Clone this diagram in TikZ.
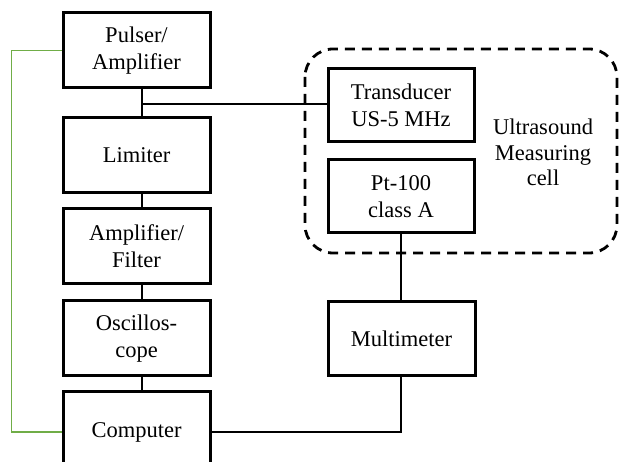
\documentclass[tikz,border=0pt]{standalone}
\usepackage{fontspec}
\setmainfont{Liberation Serif}
\begin{document}
\begin{tikzpicture}[x=1pt,y=-1pt,
  blockbox/.style={draw=black,line width=3pt,fill=white,minimum width=147pt,
    minimum height=75pt,align=center,inner sep=0pt,
    font=\fontsize{22.5}{27}\selectfont},
  wire/.style={draw=black,line width=2.4pt},
  greenwire/.style={line width=1.8pt,draw={rgb,255:red,112;green,173;blue,71}},
  cellframe/.style={draw=black,line width=2.8pt,dash pattern=on 10pt off 7pt,rounded corners=28pt}]
\useasboundingbox (0,0) rectangle (619,462);
\clip (0,0) rectangle (619,462);

% measuring cell outline
\draw[cellframe] (305,49) rectangle (617,253);
\node[font=\fontsize{22.5}{25.5}\selectfont,align=center] (celltext) at (543,152.5)
  {Ultrasound\\Measuring\\cell};

% junction below the pulser
\coordinate (j) at (142,104);

% left chain
\node[blockbox] (pulser) at (136.5,50.5) {Pulser/\\Amplifier};
\node[blockbox] (limiter) at (136.5,155.5) {Limiter};
\node[blockbox] (ampf) at (136.5,246.5) {Amplifier/\\Filter};
\node[blockbox] (osc) at (136.5,338.5) {Oscillos-\\cope};
\node[blockbox,minimum height=80pt] (comp) at (136.5,432) {Computer};

% right chain
\node[blockbox,minimum width=146pt,minimum height=73pt] (trans) at (401,105.5) {Transducer\\US-5 MHz};
\node[blockbox,minimum width=146pt,minimum height=73pt] (pt) at (401,196.5) {Pt-100\\class A};
\node[blockbox,minimum height=74pt] (mm) at (401.5,339) {Multimeter};

% connectors
\draw[wire] (pulser.south -| j) -- (limiter.north -| j);
\draw[wire] (j) -- (j -| trans.west);
\draw[wire] (limiter.south -| j) -- (ampf.north -| j);
\draw[wire] (ampf.south -| j) -- (osc.north -| j);
\draw[wire] (osc.south -| j) -- (comp.north -| j);
\draw[wire] (pt.south) -- (mm.north -| pt.south);
\draw[wire] (mm.south -| pt.south) |- (comp.east);
\draw[greenwire] (pulser.west) -- ++(-50,0) |- (comp.west);
\end{tikzpicture}
\end{document}
